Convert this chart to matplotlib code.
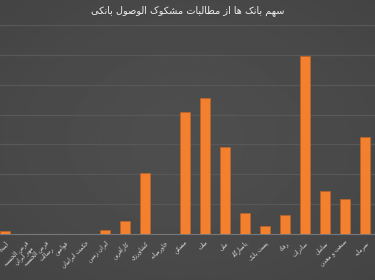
import numpy as np
import matplotlib
matplotlib.use("Agg")
import matplotlib.pyplot as plt

# Persian text is drawn with presentation forms, since matplotlib does no shaping
FORMS = {
    'ا': (0xFE8D, 0xFE8E, None, None), 'آ': (0xFE81, 0xFE82, None, None),
    'ب': (0xFE8F, 0xFE90, 0xFE91, 0xFE92), 'پ': (0xFB56, 0xFB57, 0xFB58, 0xFB59),
    'ت': (0xFE95, 0xFE96, 0xFE97, 0xFE98), 'ث': (0xFE99, 0xFE9A, 0xFE9B, 0xFE9C),
    'ج': (0xFE9D, 0xFE9E, 0xFE9F, 0xFEA0), 'چ': (0xFB7A, 0xFB7B, 0xFB7C, 0xFB7D),
    'ح': (0xFEA1, 0xFEA2, 0xFEA3, 0xFEA4), 'خ': (0xFEA5, 0xFEA6, 0xFEA7, 0xFEA8),
    'د': (0xFEA9, 0xFEAA, None, None), 'ذ': (0xFEAB, 0xFEAC, None, None),
    'ر': (0xFEAD, 0xFEAE, None, None), 'ز': (0xFEAF, 0xFEB0, None, None),
    'ژ': (0xFB8A, 0xFB8B, None, None), 'و': (0xFEED, 0xFEEE, None, None),
    'س': (0xFEB1, 0xFEB2, 0xFEB3, 0xFEB4), 'ش': (0xFEB5, 0xFEB6, 0xFEB7, 0xFEB8),
    'ص': (0xFEB9, 0xFEBA, 0xFEBB, 0xFEBC), 'ض': (0xFEBD, 0xFEBE, 0xFEBF, 0xFEC0),
    'ط': (0xFEC1, 0xFEC2, 0xFEC3, 0xFEC4), 'ظ': (0xFEC5, 0xFEC6, 0xFEC7, 0xFEC8),
    'ع': (0xFEC9, 0xFECA, 0xFECB, 0xFECC), 'غ': (0xFECD, 0xFECE, 0xFECF, 0xFED0),
    'ف': (0xFED1, 0xFED2, 0xFED3, 0xFED4), 'ق': (0xFED5, 0xFED6, 0xFED7, 0xFED8),
    'ک': (0xFB8E, 0xFB8F, 0xFB90, 0xFB91), 'گ': (0xFB92, 0xFB93, 0xFB94, 0xFB95),
    'ل': (0xFEDD, 0xFEDE, 0xFEDF, 0xFEE0), 'م': (0xFEE1, 0xFEE2, 0xFEE3, 0xFEE4),
    'ن': (0xFEE5, 0xFEE6, 0xFEE7, 0xFEE8), 'ه': (0xFEE9, 0xFEEA, 0xFEEB, 0xFEEC),
    'ی': (0xFBFC, 0xFBFD, 0xFBFE, 0xFBFF),
}


def dual(c):
    return c in FORMS and FORMS[c][2] is not None


def shape_line(text):
    chars = list(text)
    out = []
    i = 0
    while i < len(chars):
        c = chars[i]
        if c == '\u200c':
            out.append(' ')
            i += 1
            continue
        prev = chars[i - 1] if i > 0 else ''
        joins_prev = dual(prev) and c in FORMS
        if c == 'ل' and i + 1 < len(chars) and chars[i + 1] in 'اآ':
            if chars[i + 1] == 'ا':
                out.append(chr(0xFEFC if joins_prev else 0xFEFB))
            else:
                out.append(chr(0xFEF6 if joins_prev else 0xFEF5))
            i += 2
            continue
        if c not in FORMS:
            out.append(c)
            i += 1
            continue
        nxt = chars[i + 1] if i + 1 < len(chars) else ''
        joins_next = dual(c) and nxt in FORMS
        iso, fin, ini, med = FORMS[c]
        if joins_prev and joins_next:
            out.append(chr(med))
        elif joins_prev:
            out.append(chr(fin))
        elif joins_next:
            out.append(chr(ini))
        else:
            out.append(chr(iso))
        i += 1
    return ''.join(out)[::-1]


def shape(text):
    return '\n'.join(shape_line(t) for t in text.split('\n'))


title = 'سهم بانک‌ها از مطالبات مشکوک‌الوصول بانکی'
banks = ['آینده', 'قرض‌الحسنه\nمهر ایران', 'قرض‌الحسنه\nرسالت', 'قوامین',
         'حکمت ایرانیان', 'ایران زمین', 'کارآفرین', 'کشاورزی', 'خاورمیانه',
         'مسکن', 'ملت', 'ملی', 'پاسارگاد', 'پست بانک', 'رفاه', 'صادرات',
         'سامان', 'صنعت و معدن', 'سرمایه']
values = [0.5, 0.08, 0.08, 0.03, 0.08, 0.7, 2.2, 10.2, 0.08, 20.5,
          22.8, 14.5, 3.5, 1.3, 3.2, 29.8, 7.2, 5.8, 16.2]

plt.rcParams['font.family'] = ['DejaVu Sans']

fig = plt.figure(figsize=(3.75, 2.8), dpi=100)

# dark vignette background
bg = fig.add_axes([0, 0, 1, 1], zorder=-5)
yy, xx = np.mgrid[-1:1:140j, -1:1:190j]
r = np.sqrt(xx ** 2 + yy ** 2) / np.sqrt(2)
bg.imshow(0.305 - 0.04 * r ** 1.5, cmap='gray', vmin=0, vmax=1,
          aspect='auto', extent=[0, 1, 0, 1])
bg.axis('off')

ax = fig.add_axes([0, 46 / 280, 1, 209 / 280])
ax.patch.set_alpha(0)
x = np.arange(len(banks))
ax.bar(x, values, width=0.5, color='#f2802f', edgecolor='#c96220',
       linewidth=0.4, zorder=3)
ax.set_xlim(-0.25, 18.5)
ax.set_ylim(0, 35)
ax.set_yticks(np.arange(0, 36, 5))
ax.yaxis.grid(True, color='#585858', linewidth=0.9)
ax.set_axisbelow(True)
ax.tick_params(axis='y', left=False, labelleft=False)
ax.tick_params(axis='x', length=0, pad=4)
for s in ['top', 'right', 'left']:
    ax.spines[s].set_visible(False)
ax.spines['bottom'].set_color('#777777')
ax.spines['bottom'].set_linewidth(0.8)
ax.set_xticks(x)
ax.set_xticklabels([shape(b) for b in banks], rotation=45, ha='right',
                   va='top', rotation_mode='anchor', fontsize=4.2,
                   color='#dddddd', linespacing=1.1)

fig.text(0.5, 0.962, shape(title), ha='center', va='center',
         fontsize=7, color='#eeeeee')

fig.savefig('out.png', dpi=100)
